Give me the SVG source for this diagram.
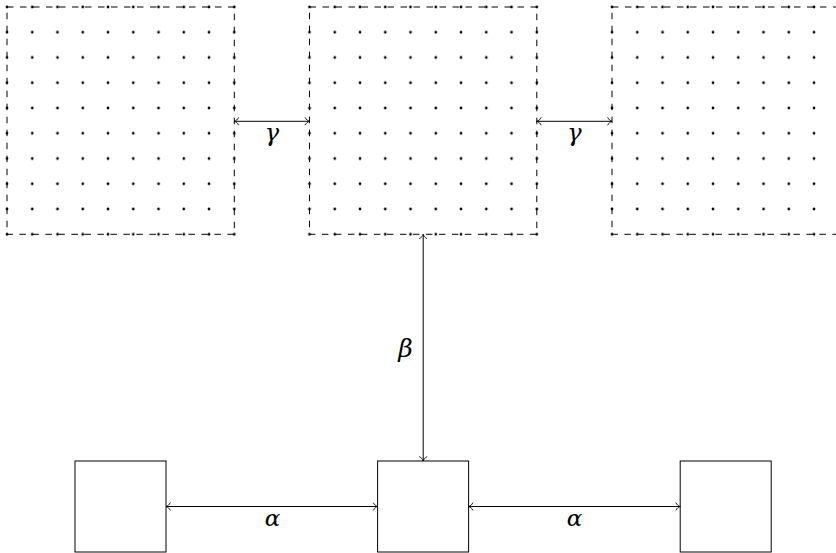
<svg xmlns="http://www.w3.org/2000/svg" xmlns:xlink="http://www.w3.org/1999/xlink" width="836" height="553" viewBox="0 0 836 553">
  <style>
    .frame { fill: none; stroke: #000; stroke-width: 1; stroke-dasharray: 6.5 6.5; }
    .box { fill: #fff; stroke: #000; stroke-width: 1; }
    .conn { fill: none; stroke: #000; stroke-width: 1; marker-start: url(#head); marker-end: url(#head); }
    .lbl { font-family: "DejaVu Serif", "Liberation Serif", serif; font-style: italic; fill: #000; text-anchor: middle; }
  </style>
  <defs>
    <pattern id="dots" patternUnits="userSpaceOnUse" x="-12.628" y="-12.628" width="25.256" height="25.256">
      <circle cx="12.628" cy="12.628" r="1.35" fill="#000"/>
    </pattern>
    <marker id="head" viewBox="-6 -5 8 10" refX="0" refY="0" markerWidth="8" markerHeight="10" markerUnits="userSpaceOnUse" orient="auto-start-reverse">
      <path d="M-4.2,-3.6 C-3.2,-1.6 -1.6,-0.5 0,0 C-1.6,0.5 -3.2,1.6 -4.2,3.6" fill="none" stroke="#000" stroke-width="0.9" stroke-linecap="round"/>
    </marker>
    <g id="grid">
      <rect x="-12.628" y="-12.628" width="252.56" height="252.56" fill="url(#dots)"/>
      <rect class="frame" x="0" y="0" width="227.3" height="227.3"/>
    </g>
  </defs>

  <g id="nodes">
    <g id="grid-left" transform="translate(7,7)"><use xlink:href="#grid" href="#grid"/></g>
    <g id="grid-middle" transform="translate(309.5,7)"><use xlink:href="#grid" href="#grid"/></g>
    <g id="grid-right" transform="translate(612,7)"><use xlink:href="#grid" href="#grid"/></g>
    <g id="box-left"><rect class="box" x="75" y="461" width="91" height="91"/></g>
    <g id="box-middle"><rect class="box" x="377.6" y="461" width="91" height="91"/></g>
    <g id="box-right"><rect class="box" x="680.2" y="461" width="91" height="91"/></g>
  </g>

  <g id="connectors">
    <line class="conn" x1="234.3" y1="121.3" x2="309.5" y2="121.3"/>
    <line class="conn" x1="536.8" y1="121.3" x2="612" y2="121.3"/>
    <line class="conn" x1="423.2" y1="234.3" x2="423.2" y2="461"/>
    <line class="conn" x1="166" y1="506.5" x2="377.6" y2="506.5"/>
    <line class="conn" x1="468.6" y1="506.5" x2="680.2" y2="506.5"/>
  </g>

  <g id="labels">
    <text class="lbl" x="272" y="141" font-size="24">γ</text>
    <text class="lbl" x="574.5" y="141" font-size="24">γ</text>
    <text class="lbl" x="405.5" y="357" font-size="25">β</text>
    <text class="lbl" x="272.5" y="526" font-size="23">α</text>
    <text class="lbl" x="574.5" y="526" font-size="23">α</text>
  </g>
</svg>
